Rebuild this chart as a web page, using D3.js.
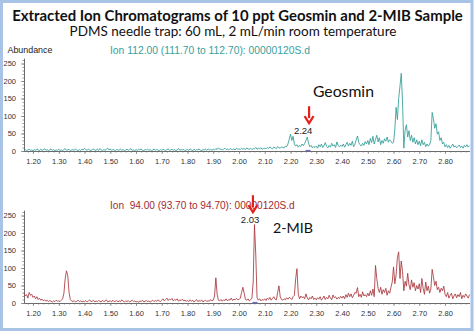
<!DOCTYPE html>
<html>
<head>
<meta charset="utf-8">
<script src="https://cdn.jsdelivr.net/npm/d3@7"></script>
<style>
  body { margin: 0; background: #fff; }
  svg { display: block; font-family: 'Liberation Sans', Arial, sans-serif; }
</style>
</head>
<body>
<svg id="chart" width="474" height="332"></svg>
<script>
const title = 'Extracted Ion Chromatograms of 10 ppt Geosmin and 2-MIB Sample';
const subtitle = 'PDMS needle trap: 60 mL, 2 mL/min room temperature';
const yLabel = 'Abundance';
const ionLabels = ['Ion 112.00 (111.70 to 112.70): 00000120S.d', 'Ion  94.00 (93.70 to 94.70): 00000120S.d'];
const compoundNames = ['Geosmin', '2-MIB'];
const peakLabels = ['2.24', '2.03'];

// retention time of the first sample and scan interval (min)
const startTime = 1.165;
const sampleStep = 0.005;
const xTicks = [1.2, 1.3, 1.4, 1.5, 1.6, 1.7, 1.8, 1.9, 2.0, 2.1, 2.2, 2.3, 2.4, 2.5, 2.6, 2.7, 2.8];
const yTicks = [0, 50, 100, 150, 200, 250];

// m/z 112 trace (geosmin)
const ion112 = [
  2, 4, 1, 3, 5, 2, 3,
  1, 4, 2, 6, 3, 1, 5, 2, 3, 7, 2, 4, 1, 3, 6, 2, 4, 1, 3, 2,
  5, 2, 3, 1, 4, 7, 2, 3, 5, 1, 3, 4, 2, 6, 3, 1, 4, 2, 5, 3,
  8, 4, 2, 5, 3, 1, 4, 6, 2, 3, 5, 2, 7, 3, 1, 4, 2, 5, 8, 3,
  6, 2, 4, 3, 1, 5, 2, 3, 6, 2, 4, 1, 3, 5, 2, 4, 7, 2, 3, 1,
  4, 2, 5, 3, 6, 2, 1, 4, 3, 5, 2, 4, 1, 3, 6, 2, 5, 3, 1, 4,
  2, 5, 3, 1, 4, 6, 2, 3, 5, 2, 4, 1, 3, 7, 2, 4, 3, 5, 1, 3,
  4, 2, 6, 3, 1, 5, 2, 4, 3, 6, 2, 1, 4, 3, 5, 2, 6, 3, 4, 2,
  5, 3, 7, 4, 9, 5, 6, 3, 5, 8, 4, 6, 3, 7, 5, 4, 6, 3, 8, 5,
  6, 4, 8, 5, 7, 4, 9, 6, 5, 8, 4, 7, 6, 10, 5, 8, 6, 9, 5, 7,
  8, 6, 10, 7, 12, 8, 6, 11, 9, 7, 13, 9, 8, 12, 10, 9, 14, 12, 20, 34,
  48, 30, 42, 20, 14, 18, 11, 16, 13, 20, 15, 22, 30, 40, 22, 12, 16, 9, 13, 10,
  14, 8, 18, 12, 20, 10, 15, 24, 13, 9, 16, 11, 22, 14, 18, 10, 26, 15, 12, 17,
  13, 20, 11, 18, 25, 14, 22, 16, 28, 12, 19, 32, 43, 24, 18, 14, 22, 16, 27, 20,
  30, 18, 36, 24, 42, 20, 33, 45, 26, 38, 18, 30, 22, 35, 28, 40, 25, 32, 28, 22,
  25, 60, 125, 90, 150, 185, 222, 140, 8, 60, 75, 40, 58, 30, 45, 25, 38, 20, 32, 18,
  28, 15, 32, 18, 25, 12, 20, 14, 18, 30, 110, 92, 65, 78, 48, 55, 30, 38, 20, 25,
  12, 18, 10, 16, 8, 14, 20, 11, 15, 9, 13, 17, 10, 14, 8, 16, 12, 18, 11, 15,
];

// m/z 94 trace (2-MIB)
const ion94 = [
  28, 20, 24, 14, 30, 22, 25,
  16, 20, 12, 18, 10, 14, 8, 11, 6, 9, 5, 8, 4, 7, 5, 3, 6, 4, 8, 5,
  6, 4, 8, 12, 28, 70, 92, 78, 30, 10, 6, 4, 7, 3, 5, 8, 4, 6, 3, 5,
  4, 7, 3, 6, 9, 4, 5, 8, 3, 6, 4, 7, 5, 3, 8, 4, 6, 9, 3, 5,
  6, 3, 8, 4, 5, 7, 3, 6, 4, 9, 5, 3, 6, 4, 7, 3, 5, 8, 4, 6,
  3, 5, 2, 6, 4, 8, 3, 5, 7, 4, 6, 3, 5, 8, 4, 7, 5, 9, 6, 4,
  8, 12, 6, 10, 14, 7, 11, 9, 13, 6, 10, 8, 12, 5, 9, 7, 11, 6, 8, 5,
  7, 4, 9, 5, 8, 3, 6, 10, 4, 7, 5, 9, 3, 6, 8, 4, 7, 5, 10, 6,
  8, 20, 72, 25, 8, 6, 10, 5, 9, 7, 12, 6, 10, 8, 14, 7, 11, 9, 13, 10,
  10, 14, 30, 45, 28, 10, 8, 12, 6, 9, 14, 60, 224, 140, 15, 8, 12, 6, 10, 8,
  12, 7, 14, 10, 16, 8, 13, 18, 11, 9, 30, 49, 18, 10, 8, 12, 9, 15, 11, 16,
  14, 10, 18, 22, 70, 98, 25, 12, 20, 15, 18, 12, 26, 14, 9, 16, 12, 20, 10, 14,
  9, 15, 11, 18, 8, 13, 20, 10, 16, 12, 22, 14, 9, 23, 15, 18, 11, 16, 13, 19,
  14, 20, 12, 24, 16, 28, 18, 26, 15, 22, 30, 28, 44, 18, 25, 16, 32, 20, 24, 18,
  28, 20, 35, 22, 40, 18, 107, 70, 42, 30, 45, 25, 38, 30, 42, 22, 35, 28, 45, 60,
  103, 55, 80, 130, 146, 70, 120, 90, 35, 62, 48, 85, 52, 38, 66, 45, 58, 35, 50, 40,
  55, 30, 70, 42, 25, 60, 35, 48, 28, 40, 96, 75, 50, 62, 38, 45, 30, 42, 35, 48,
  25, 18, 30, 14, 22, 28, 12, 20, 26, 15, 24, 18, 30, 12, 22, 16, 26, 20, 14, 24,
];

const svg = d3.select('#chart');
const lastTime = startTime + (ion112.length - 1) * sampleStep;

const x = d3.scaleLinear().domain([startTime, lastTime]).range([24, 469.5]);

// shrink/grow a text's font so it spans a given width
function fitWidth(sel, width) {
  const len = sel.node().getComputedTextLength();
  const size = parseFloat(sel.attr('font-size'));
  sel.attr('font-size', (size * width / len).toFixed(2));
  return sel;
}

svg.append('rect')
  .attr('x', 1.5).attr('y', 1.5)
  .attr('width', 470.5).attr('height', 328)
  .attr('fill', 'none')
  .attr('stroke', '#a9c3e6')
  .attr('stroke-width', 3);

svg.append('text')
  .attr('x', 237.5).attr('y', 21)
  .attr('text-anchor', 'middle')
  .attr('font-family', 'Lato, sans-serif')
  .attr('font-weight', 'bold')
  .attr('font-size', 15)
  .attr('fill', '#111')
  .text(title)
  .call(fitWidth, 451);

svg.append('text')
  .attr('x', 233).attr('y', 36)
  .attr('text-anchor', 'middle')
  .attr('font-family', 'Lato, sans-serif')
  .attr('font-size', 13)
  .attr('fill', '#111')
  .text(subtitle)
  .call(fitWidth, 327);

svg.append('text')
  .attr('x', 7.5).attr('y', 52.5)
  .attr('font-size', 8)
  .attr('fill', '#222')
  .text(yLabel)
  .call(fitWidth, 45);

const panels = [
  {
    values: ion112,
    base: 151,
    color: '#2f9d97',
    labelColor: '#35a19c',
    ionLabel: ionLabels[0],
    labelY: 54,
    labelWidth: 200,
    peak: { label: peakLabels[0], at: 2.249, level: 48, arrow: 2.272, marker: 2.268 },
    name: { text: compoundNames[0], at: 2.287, level: 154, width: 61 },
  },
  {
    values: ion94,
    base: 303,
    color: '#a8383d',
    labelColor: '#a32a30',
    ionLabel: ionLabels[1],
    labelY: 208.5,
    labelWidth: 185,
    peak: { label: peakLabels[1], at: 2.043, level: 228, arrow: 2.054, marker: 2.062 },
    name: { text: compoundNames[1], at: 2.132, level: 200, width: 40 },
  },
];

panels.forEach((p) => {
  const y = d3.scaleLinear().domain([0, 265]).range([p.base, p.base - 265 * 0.35]);
  const g = svg.append('g');

  // minor ticks first so the labelled axis sits on top
  g.append('g')
    .attr('transform', `translate(24,0)`)
    .call(d3.axisLeft(y).tickValues(d3.range(0, 261, 10)).tickSize(1.6).tickFormat('').tickSizeOuter(0));
  g.append('g')
    .attr('transform', `translate(24,0)`)
    .call(d3.axisLeft(y).tickValues(yTicks).tickSize(3).tickPadding(5).tickSizeOuter(0));

  g.append('g')
    .attr('transform', `translate(0,${p.base})`)
    .call(d3.axisBottom(x).tickValues(d3.range(1.18, 2.895, 0.02)).tickSize(1.6).tickFormat('').tickSizeOuter(0));
  g.append('g')
    .attr('transform', `translate(0,${p.base})`)
    .call(d3.axisBottom(x).tickValues(xTicks).tickSize(3).tickPadding(4.5).tickFormat(d3.format('.2f')).tickSizeOuter(0));

  g.selectAll('.domain').attr('stroke', '#666').attr('stroke-width', 0.8);
  g.selectAll('.tick line').attr('stroke', '#777').attr('stroke-width', 0.7);
  g.selectAll('.tick text').attr('font-size', 7.5).attr('fill', '#333')
    .attr('font-family', "'Liberation Sans', Arial, sans-serif");

  const line = d3.line()
    .x((d, i) => x(startTime + i * sampleStep))
    .y(d => y(d))
    .curve(d3.curveLinear);

  g.append('path')
    .attr('d', line(p.values))
    .attr('fill', 'none')
    .attr('stroke', p.color)
    .attr('stroke-width', 0.85)
    .attr('stroke-linejoin', 'round');

  // integration marker at the baseline
  g.append('line')
    .attr('x1', x(p.peak.marker) - 2.5).attr('x2', x(p.peak.marker) + 2.5)
    .attr('y1', y(0) - 0.5).attr('y2', y(0) - 0.5)
    .attr('stroke', '#6a6ae0')
    .attr('stroke-width', 1.2);

  g.append('text')
    .attr('x', 110).attr('y', p.labelY)
    .attr('font-size', 10)
    .attr('fill', p.labelColor)
    .style('white-space', 'pre')
    .text(p.ionLabel)
    .call(fitWidth, p.labelWidth);

  const labelY = y(p.peak.level);
  g.append('text')
    .attr('x', x(p.peak.at)).attr('y', labelY)
    .attr('text-anchor', 'middle')
    .attr('font-size', 9.5)
    .attr('fill', '#222')
    .text(p.peak.label);

  const ax = x(p.peak.arrow);
  const tip = labelY - 11;
  g.append('line')
    .attr('x1', ax).attr('x2', ax)
    .attr('y1', tip - 17).attr('y2', tip - 5)
    .attr('stroke', '#e5201c')
    .attr('stroke-width', 2.2);
  g.append('path')
    .attr('d', `M${ax - 4.5},${tip - 7}L${ax},${tip}L${ax + 4.5},${tip - 7}`)
    .attr('fill', 'none')
    .attr('stroke', '#e5201c')
    .attr('stroke-width', 2.2)
    .attr('stroke-linejoin', 'miter');

  g.append('text')
    .attr('x', x(p.name.at)).attr('y', y(p.name.level))
    .attr('font-family', 'Lato, sans-serif')
    .attr('font-size', 14)
    .attr('fill', '#111')
    .text(p.name.text)
    .call(fitWidth, p.name.width);
});
</script>
</body>
</html>
